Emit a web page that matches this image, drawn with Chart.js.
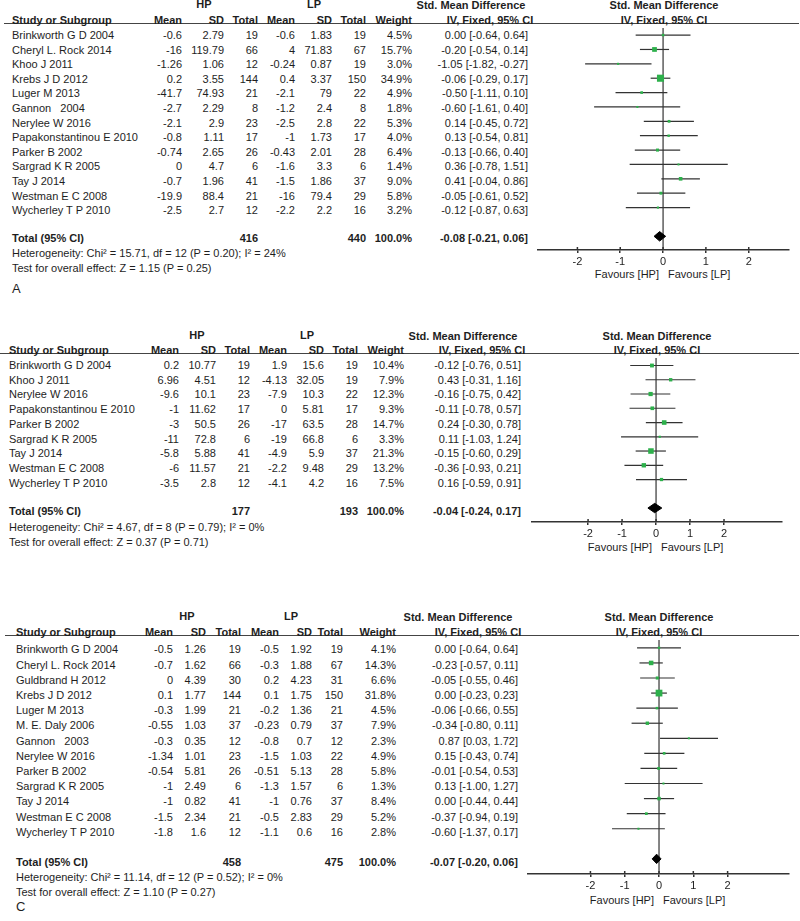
<!DOCTYPE html>
<html><head><meta charset="utf-8">
<script src="https://cdn.jsdelivr.net/npm/chart.js@4.4.0/dist/chart.umd.min.js"></script>
<style>
html,body{margin:0;padding:0;background:#fff;}
#page{position:relative;width:800px;height:921px;overflow:hidden;font-family:"Liberation Sans",Arial,sans-serif;color:#1e1e1e;}
.t{position:absolute;white-space:pre;font-size:11px;line-height:12px;}
.b{font-weight:bold;}
.big{font-size:13px;}
canvas{position:absolute;left:0;}
.rule{position:absolute;height:0;border-top:1.5px solid #444;}
</style></head><body><div id="page"></div>
<script>
// ---------- Panel A ----------
const studiesA = ["Brinkworth G D 2004","Cheryl L. Rock 2014","Khoo J 2011","Krebs J D 2012","Luger M 2013","Gannon   2004","Nerylee W 2016","Papakonstantinou E 2010","Parker B 2002","Sargrad K R 2005","Tay J 2014","Westman E C 2008","Wycherley T P 2010"];
const hpMeanA = [-0.6,-16,-1.26,0.2,-41.7,-2.7,-2.1,-0.8,-0.74,0,-0.7,-19.9,-2.5];
const hpSDA = [2.79,119.79,1.06,3.55,74.93,2.29,2.9,1.11,2.65,4.7,1.96,88.4,2.7];
const hpNA = [19,66,12,144,21,8,23,17,26,6,41,21,12];
const lpMeanA = [-0.6,4,-0.24,0.4,-2.1,-1.2,-2.5,-1,-0.43,-1.6,-1.5,-16,-2.2];
const lpSDA = [1.83,71.83,0.87,3.37,79,2.4,2.8,1.73,2.01,3.3,1.86,79.4,2.2];
const lpNA = [19,67,19,150,22,8,22,17,28,6,37,29,16];
const weightA = [4.5,15.7,3.0,34.9,4.9,1.8,5.3,4.0,6.4,1.4,9.0,5.8,3.2];
const smdA = [0.00,-0.20,-1.05,-0.06,-0.50,-0.60,0.14,0.13,-0.13,0.36,0.41,-0.05,-0.12];
const loA = [-0.64,-0.54,-1.82,-0.29,-1.11,-1.61,-0.45,-0.54,-0.66,-0.78,-0.04,-0.61,-0.87];
const hiA = [0.64,0.14,-0.27,0.17,0.10,0.40,0.72,0.81,0.40,1.51,0.86,0.52,0.63];
const totalA = [416,440,100.0,-0.08,-0.21,0.06]; // hpN, lpN, weight, smd, lo, hi
const statsA = ["Heterogeneity: Chi\u00B2 = 15.71, df = 12 (P = 0.20); I\u00B2 = 24%","Test for overall effect: Z = 1.15 (P = 0.25)"];

// ---------- Panel B ----------
const studiesB = ["Brinkworth G D 2004","Khoo J 2011","Nerylee W 2016","Papakonstantinou E 2010","Parker B 2002","Sargrad K R 2005","Tay J 2014","Westman E C 2008","Wycherley T P 2010"];
const hpMeanB = [0.2,6.96,-9.6,-1,-3,-11,-5.8,-6,-3.5];
const hpSDB = [10.77,4.51,10.1,11.62,50.5,72.8,5.88,11.57,2.8];
const hpNB = [19,12,23,17,26,6,41,21,12];
const lpMeanB = [1.9,-4.13,-7.9,0,-17,-19,-4.9,-2.2,-4.1];
const lpSDB = [15.6,32.05,10.3,5.81,63.5,66.8,5.9,9.48,4.2];
const lpNB = [19,19,22,17,28,6,37,29,16];
const weightB = [10.4,7.9,12.3,9.3,14.7,3.3,21.3,13.2,7.5];
const smdB = [-0.12,0.43,-0.16,-0.11,0.24,0.11,-0.15,-0.36,0.16];
const loB = [-0.76,-0.31,-0.75,-0.78,-0.30,-1.03,-0.60,-0.93,-0.59];
const hiB = [0.51,1.16,0.42,0.57,0.78,1.24,0.29,0.21,0.91];
const totalB = [177,193,100.0,-0.04,-0.24,0.17];
const statsB = ["Heterogeneity: Chi\u00B2 = 4.67, df = 8 (P = 0.79); I\u00B2 = 0%","Test for overall effect: Z = 0.37 (P = 0.71)"];

// ---------- Panel C ----------
const studiesC = ["Brinkworth G D 2004","Cheryl L. Rock 2014","Guldbrand H 2012","Krebs J D 2012","Luger M 2013","M. E. Daly 2006","Gannon   2003","Nerylee W 2016","Parker B 2002","Sargrad K R 2005","Tay J 2014","Westman E C 2008","Wycherley T P 2010"];
const hpMeanC = [-0.5,-0.7,0,0.1,-0.3,-0.55,-0.3,-1.34,-0.54,-1,-1,-1.5,-1.8];
const hpSDC = [1.26,1.62,4.39,1.77,1.99,1.03,0.35,1.01,5.81,2.49,0.82,2.34,1.6];
const hpNC = [19,66,30,144,21,37,12,23,26,6,41,21,12];
const lpMeanC = [-0.5,-0.3,0.2,0.1,-0.2,-0.23,-0.8,-1.5,-0.51,-1.3,-1,-0.5,-1.1];
const lpSDC = [1.92,1.88,4.23,1.75,1.36,0.79,0.7,1.03,5.13,1.57,0.76,2.83,0.6];
const lpNC = [19,67,31,150,21,37,12,22,28,6,37,29,16];
const weightC = [4.1,14.3,6.6,31.8,4.5,7.9,2.3,4.9,5.8,1.3,8.4,5.2,2.8];
const smdC = [0.00,-0.23,-0.05,0.00,-0.06,-0.34,0.87,0.15,-0.01,0.13,0.00,-0.37,-0.60];
const loC = [-0.64,-0.57,-0.55,-0.23,-0.66,-0.80,0.03,-0.43,-0.54,-1.00,-0.44,-0.94,-1.37];
const hiC = [0.64,0.11,0.46,0.23,0.55,0.11,1.72,0.74,0.53,1.27,0.44,0.19,0.17];
const totalC = [458,475,100.0,-0.07,-0.20,0.06];
const statsC = ["Heterogeneity: Chi\u00B2 = 11.14, df = 12 (P = 0.52); I\u00B2 = 0%","Test for overall effect: Z = 1.10 (P = 0.27)"];

const tickVals = [-2,-1,0,1,2];
const colHeads = ["Mean","SD","Total","Mean","SD","Total","Weight"];
const FONT = "'Liberation Sans', Arial, sans-serif";

const page = document.getElementById('page');
function txt(x, cy, s, align, cls) {
  const e = document.createElement('div');
  e.className = 't ' + (cls || '');
  e.textContent = s;
  e.style.top = (cy - 6) + 'px';
  if (align === 'right') e.style.right = (800 - x) + 'px';
  else if (align === 'center') { e.style.left = x + 'px'; e.style.transform = 'translateX(-50%)'; }
  else e.style.left = x + 'px';
  page.appendChild(e);
}
const ci = (m, l, h) => m.toFixed(2) + ' [' + l.toFixed(2) + ', ' + h.toFixed(2) + ']';

const extras = {
  id: 'extras',
  beforeDatasetsDraw(chart) {
    const {ctx, chartArea: a, scales: {x}} = chart;
    const x0 = x.getPixelForValue(0);
    ctx.save();
    ctx.strokeStyle = '#333';
    ctx.lineWidth = 1.2;
    ctx.beginPath();
    ctx.moveTo(x0, a.top); ctx.lineTo(x0, a.bottom);
    ctx.stroke();
    ctx.lineWidth = 1.5;
    ctx.beginPath();
    x.ticks.forEach(t => { const p = x.getPixelForValue(t.value); ctx.moveTo(p, a.bottom - 3); ctx.lineTo(p, a.bottom); });
    ctx.stroke();
    ctx.restore();
  }
};

function panel(g, d) {
  const n = d.studies.length;
  const r = document.createElement('div');
  r.className = 'rule';
  r.style.left = g.ruleX0 + 'px'; r.style.width = (799 - g.ruleX0) + 'px'; r.style.top = (g.top - 0.75) + 'px';
  page.appendChild(r);
  txt(g.hpCx, g.hpCy, 'HP', 'center', 'b');
  txt(g.lpCx, g.hpCy, 'LP', 'center', 'b');
  txt(g.cols[0], g.headCy, 'Study or Subgroup', 'left', 'b');
  colHeads.forEach((h, k) => txt(g.cols[k + 1], g.headCy, h, 'right', 'b'));
  txt(g.smdCx, g.hpCy + 1, 'Std. Mean Difference', 'center', 'b');
  txt(g.ivCx, g.headCy, 'IV, Fixed, 95% CI', 'center', 'b');
  txt(g.plotCx, g.hpCy + 1, 'Std. Mean Difference', 'center', 'b');
  txt(g.plotCx, g.headCy, 'IV, Fixed, 95% CI', 'center', 'b');
  for (let i = 0; i < n; i++) {
    const cy = g.rowCy0 + i * g.rowStep;
    txt(g.cols[0], cy, d.studies[i], 'left');
    const vals = [d.hpMean[i], d.hpSD[i], d.hpN[i], d.lpMean[i], d.lpSD[i], d.lpN[i]];
    vals.forEach((v, k) => txt(g.cols[k + 1], cy, String(v), 'right'));
    txt(g.cols[7], cy, d.weight[i].toFixed(1) + '%', 'right');
    txt(g.cols[8], cy, ci(d.smd[i], d.lo[i], d.hi[i]), 'right');
  }
  const T = d.total;
  txt(g.cols[0], g.totalCy, 'Total (95% CI)', 'left', 'b');
  txt(g.cols[3], g.totalCy, String(T[0]), 'right', 'b');
  txt(g.cols[6], g.totalCy, String(T[1]), 'right', 'b');
  txt(g.cols[7], g.totalCy, T[2].toFixed(1) + '%', 'right', 'b');
  txt(g.cols[8], g.totalCy, ci(T[3], T[4], T[5]), 'right', 'b');
  txt(g.cols[0], g.hetCy, d.stats[0], 'left');
  txt(g.cols[0], g.testCy, d.stats[1], 'left');
  if (g.label) txt(g.label[0], g.label[1], g.label[2], 'left', 'big');
  txt(g.favHPR, g.favCy, 'Favours [HP]', 'right');
  txt(g.favLPL, g.favCy, 'Favours [LP]', 'left');

  const axisH = 34;
  const cv = document.createElement('canvas');
  const H = Math.round(g.axisY - g.top + axisH);
  cv.width = 800; cv.height = H;
  cv.style.top = g.top + 'px';
  cv.style.width = '800px'; cv.style.height = H + 'px';
  page.appendChild(cv);

  const datasets = [];
  datasets.push({
    data: d.smd.map((v, i) => ({x: v, y: i})),
    showLine: false, pointStyle: 'rect',
    pointRadius: d.weight.map(w => Math.max(2, 1.2 * Math.sqrt(w)) / Math.SQRT2),
    backgroundColor: '#2db04b', borderColor: '#2db04b', pointBorderWidth: 0, borderWidth: 0
  });
  d.smd.forEach((v, i) => datasets.push({
    data: [{x: d.lo[i], y: i}, {x: d.hi[i], y: i}],
    borderColor: '#333', borderWidth: 1.2, pointRadius: 0, fill: false
  }));
  const ty = n + 1, h = 4.8 / g.lineStep;
  datasets.push({
    data: [{x: T[4], y: ty}, {x: T[3], y: ty - h}, {x: T[5], y: ty}, {x: T[3], y: ty + h}, {x: T[4], y: ty}],
    borderColor: '#000', backgroundColor: '#000', borderWidth: 1, pointRadius: 0, fill: 'shape'
  });

  new Chart(cv, {
    type: 'line',
    data: {datasets},
    plugins: [extras],
    options: {
      responsive: false, animation: false, devicePixelRatio: 1,
      layout: {padding: {left: g.axisL, right: 800 - g.axisR, top: 0, bottom: 0}},
      plugins: {legend: {display: false}, tooltip: {enabled: false}},
      scales: {
        x: {
          type: 'linear', position: 'bottom', min: g.xMin, max: g.xMax,
          afterBuildTicks: s => { s.ticks = tickVals.map(v => ({value: v})); },
          afterFit: s => { s.height = axisH; },
          border: {display: true, color: '#333', width: 1.5},
          grid: {drawOnChartArea: false, drawTicks: true, tickLength: 3, color: '#333', lineWidth: 1.5},
          ticks: {color: '#1e1e1e', font: {family: FONT, size: 11}, padding: 2, maxRotation: 0, callback: v => String(v)}
        },
        y: {type: 'linear', display: false, reverse: true, min: g.yMin, max: g.yMax}
      }
    }
  });
}

panel({
  top: 23.5, axisY: 249, axisL: 538, axisR: 789, xMin: -2.92, xMax: 2.94,
  lineStep: 14.6, yMin: (23.5 - 30.7) / 14.6, yMax: (249 - 30.7) / 14.6,
  rowCy0: 35, rowStep: 14.6, totalCy: 238, hetCy: 253, testCy: 267.5,
  hpCy: 4, headCy: 20, cols: [12, 182, 224, 258, 295, 332, 366, 412, 528],
  hpCx: 204, lpCx: 314, smdCx: 471, ivCx: 490, plotCx: 664,
  favCy: 274, favHPR: 659, favLPL: 668, ruleX0: 4, label: [12, 289, 'A']
}, {studies: studiesA, hpMean: hpMeanA, hpSD: hpSDA, hpN: hpNA, lpMean: lpMeanA, lpSD: lpSDA, lpN: lpNA,
    weight: weightA, smd: smdA, lo: loA, hi: hiA, total: totalA, stats: statsA});

panel({
  top: 354, axisY: 522, axisL: 532, axisR: 782, xMin: -3.65, xMax: 3.706,
  lineStep: 14.6, yMin: (354 - 361.7) / 14.6, yMax: (522 - 361.7) / 14.6,
  rowCy0: 365, rowStep: 14.7, totalCy: 511, hetCy: 527, testCy: 541.5,
  hpCy: 335, headCy: 350, cols: [9, 179, 216, 250, 287, 324, 358, 404, 521],
  hpCx: 197, lpCx: 307, smdCx: 463, ivCx: 482, plotCx: 657,
  favCy: 547, favHPR: 652, favLPL: 661, ruleX0: 0, label: null
}, {studies: studiesB, hpMean: hpMeanB, hpSD: hpSDB, hpN: hpNB, lpMean: lpMeanB, lpSD: lpSDB, lpN: lpNB,
    weight: weightB, smd: smdB, lo: loB, hi: hiB, total: totalB, stats: statsB});

panel({
  top: 636, axisY: 874, axisL: 528, axisR: 789, xMin: -3.82, xMax: 3.79,
  lineStep: 15.33, yMin: (636 - 644) / 15.33, yMax: (874 - 644) / 15.33,
  rowCy0: 649.3, rowStep: 15.2, totalCy: 861.7, hetCy: 876.7, testCy: 891.7,
  hpCy: 615.5, headCy: 632, cols: [16, 173, 206, 241, 279, 312, 343, 396, 518],
  hpCx: 187, lpCx: 291, smdCx: 458, ivCx: 478, plotCx: 659,
  favCy: 900, favHPR: 654, favLPL: 663, ruleX0: 5, label: [16, 906.7, 'C']
}, {studies: studiesC, hpMean: hpMeanC, hpSD: hpSDC, hpN: hpNC, lpMean: lpMeanC, lpSD: lpSDC, lpN: lpNC,
    weight: weightC, smd: smdC, lo: loC, hi: hiC, total: totalC, stats: statsC});
</script>
</body></html>
